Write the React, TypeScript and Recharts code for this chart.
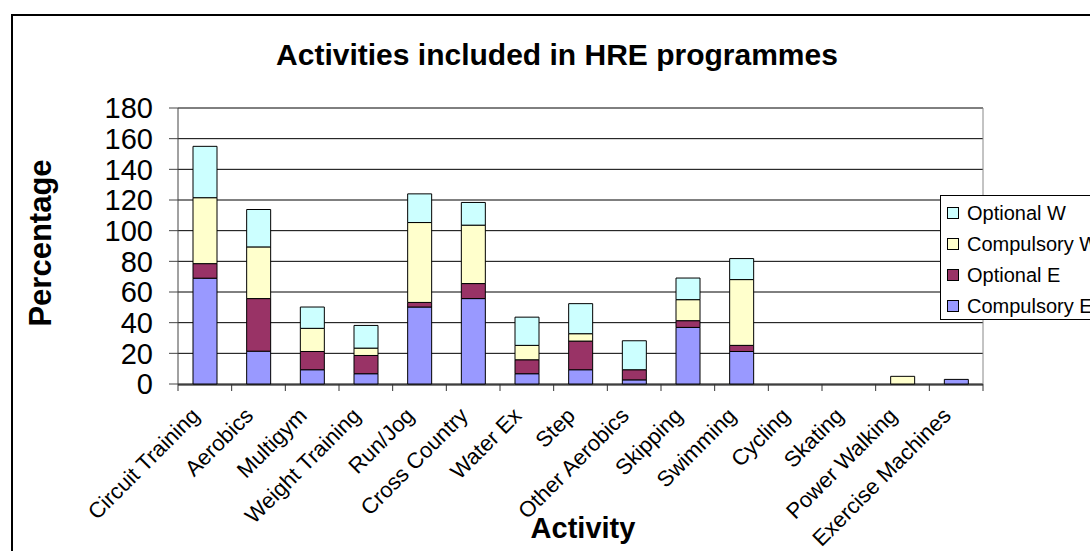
import React from "react";
import { BarChart, Bar, XAxis, YAxis, CartesianGrid } from "recharts";

const categories = [
  "Circuit Training", "Aerobics", "Multigym", "Weight Training", "Run/Jog",
  "Cross Country", "Water Ex", "Step", "Other Aerobics", "Skipping",
  "Swimming", "Cycling", "Skating", "Power Walking", "Exercise Machines",
];
const compulsoryE = [69, 21.4, 9.3, 6.7, 50.2, 55.7, 6.7, 9.3, 2.7, 36.9, 21.2, 0, 0, 0, 3];
const optionalE = [9.5, 34.3, 11.9, 11.9, 3, 9.8, 9.1, 18.7, 6.6, 4.4, 4, 0, 0, 0, 0];
const compulsoryW = [43, 33.7, 15.1, 4.8, 52.1, 38.1, 9.4, 4.8, 0, 13.7, 42.9, 0, 0, 5, 0];
const optionalW = [33.5, 24.4, 13.9, 14.8, 18.7, 14.8, 18.4, 19.6, 18.9, 14.1, 13.7, 0, 0, 0, 0];
const yTicks = [0, 20, 40, 60, 80, 100, 120, 140, 160, 180];

const series = [
  { key: "compulsoryE", name: "Compulsory E", color: "#9999FF", values: compulsoryE },
  { key: "optionalE", name: "Optional E", color: "#993366", values: optionalE },
  { key: "compulsoryW", name: "Compulsory W", color: "#FFFFCC", values: compulsoryW },
  { key: "optionalW", name: "Optional W", color: "#CCFFFF", values: optionalW },
];

const data = categories.map((c, i) => {
  const row: any = { name: c, idx: i + 0.5 };
  series.forEach((s) => (row[s.key] = s.values[i]));
  return row;
});
const boundaryTicks = [...categories.map((_, i) => i), categories.length];

const FONT = "'Liberation Sans', Arial, sans-serif";

const XTick = (props: any) => {
  const { x, y, payload } = props;
  return (
    <text
      transform={`translate(${x - 4},${y + 32}) rotate(-45)`}
      textAnchor="end"
      fontSize={22}
      fontFamily={FONT}
      fill="#000"
    >
      {payload.value}
    </text>
  );
};

const EmptyTick = () => <g />;

export default function App() {
  return (
    <div
      style={{
        position: "absolute",
        left: 0,
        top: 0,
        width: 1090,
        height: 551,
        overflow: "hidden",
        background: "#fff",
        fontFamily: FONT,
      }}
    >
      <div
        style={{
          position: "absolute",
          left: 11,
          top: 14,
          width: 1200,
          height: 700,
          border: "2px solid #000",
        }}
      />
      <div style={{ position: "absolute", left: 0, top: 0 }}>
        <BarChart
          width={1090}
          height={551}
          data={data}
          margin={{ top: 108, right: 106, bottom: 165, left: 0 }}
        >
          <CartesianGrid horizontal vertical={false} stroke="#000" strokeWidth={1} />
          <XAxis
            dataKey="name"
            xAxisId="cat"
            height={1}
            interval={0}
            tickSize={0}
            tickMargin={0}
            tickLine={false}
            axisLine={{ stroke: "#000" }}
            tick={<XTick />}
          />
          <XAxis
            xAxisId="bnd"
            type="number"
            dataKey="idx"
            domain={[0, categories.length]}
            allowDataOverflow
            ticks={boundaryTicks}
            interval={0}
            height={1}
            tickSize={7}
            axisLine={false}
            tickLine={{ stroke: "#333" }}
            tick={<EmptyTick />}
          />
          <YAxis
            width={178}
            domain={[0, 180]}
            ticks={yTicks}
            interval={0}
            tickSize={9}
            tickMargin={16}
            axisLine={{ stroke: "#444" }}
            tickLine={{ stroke: "#444" }}
            tick={{ fontSize: 29, fill: "#000", fontFamily: FONT }}
          />
          <YAxis
            yAxisId="r"
            orientation="right"
            width={1}
            domain={[0, 180]}
            tick={false}
            tickLine={false}
            axisLine={{ stroke: "#888" }}
          />
          {series.map((s) => (
            <Bar
              key={s.key}
              dataKey={s.key}
              name={s.name}
              xAxisId="cat"
              stackId="a"
              fill={s.color}
              stroke="#000"
              strokeWidth={1}
              barSize={24}
              isAnimationActive={false}
            />
          ))}
        </BarChart>
      </div>
      <svg
        width={1090}
        height={551}
        style={{ position: "absolute", left: 0, top: 0, pointerEvents: "none" }}
      >
        <text x={557} y={65} textAnchor="middle" fontSize={30} fontWeight="bold" fontFamily={FONT}>
          Activities included in HRE programmes
        </text>
        <text
          transform="translate(51,243) rotate(-90)"
          textAnchor="middle"
          fontSize={31}
          fontWeight="bold"
          fontFamily={FONT}
        >
          Percentage
        </text>
        <text x={583} y={538} textAnchor="middle" fontSize={29} fontWeight="bold" fontFamily={FONT}>
          Activity
        </text>
      </svg>
      <div
        style={{
          position: "absolute",
          left: 940,
          top: 195,
          width: 180,
          height: 125,
          border: "1px solid #000",
          background: "#fff",
          boxSizing: "border-box",
        }}
      >
        {[...series].reverse().map((s, i) => (
          <div
            key={s.key}
            style={{
              position: "absolute",
              left: 6,
              top: 3 + i * 31,
              height: 28,
              display: "flex",
              alignItems: "center",
              whiteSpace: "nowrap",
            }}
          >
            <span
              style={{
                display: "inline-block",
                width: 10,
                height: 10,
                background: s.color,
                border: "1px solid #000",
                marginRight: 8,
              }}
            />
            <span style={{ fontSize: 20, color: "#000" }}>{s.name}</span>
          </div>
        ))}
      </div>
    </div>
  );
}
